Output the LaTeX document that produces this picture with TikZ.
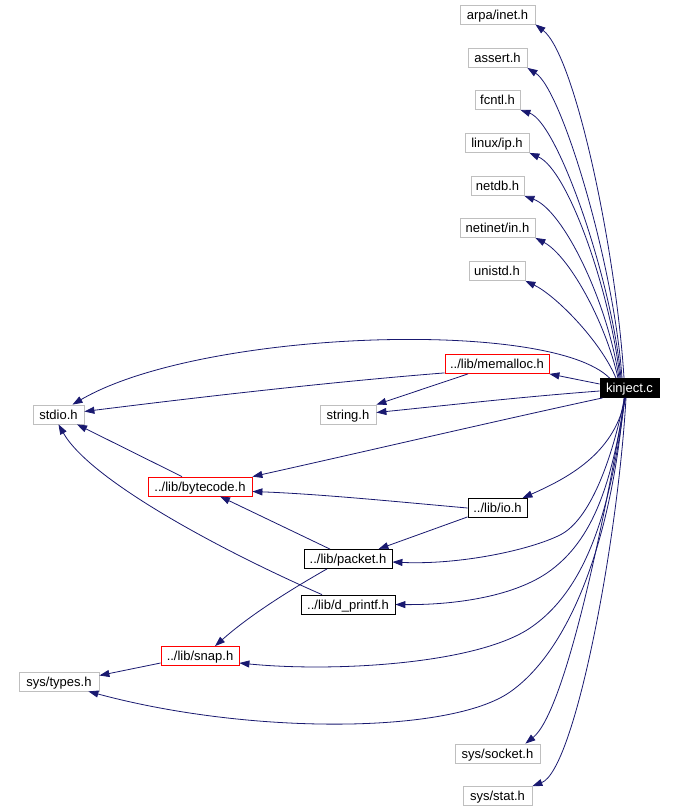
\documentclass[tikz,border=0pt]{standalone}
\usepackage{fontspec}
\setmainfont{Liberation Sans}
\usetikzlibrary{arrows.meta,calc}
\definecolor{edgeblue}{HTML}{191970}
\definecolor{boxgray}{HTML}{BFBFBF}
\begin{document}
\begin{tikzpicture}[x=1pt,y=-1pt,
  hdr/.style={draw=boxgray, line width=0.8pt, minimum height=19pt, inner sep=0pt, text height=10pt, text depth=0.5pt, font=\fontsize{13}{15}\selectfont, fill=white},
  redbox/.style={hdr, draw=red},
  blackbox/.style={hdr, draw=black},
  mainbox/.style={hdr, draw=black, fill=black, text=white},
  dep/.style={draw=edgeblue, line width=0.8pt, -{Triangle[length=10pt,width=7pt]}},
]
\useasboundingbox[fill=white] (0,0) rectangle (676,812);

\node[hdr, minimum width=75pt] (arpa) at (497.5,14.5) {arpa/inet.h};
\node[hdr, minimum width=59pt] (assert) at (497.5,58) {assert.h};
\node[hdr, minimum width=45pt] (fcntl) at (497.5,100) {fcntl.h};
\node[hdr, minimum width=64pt] (linuxip) at (497,143) {linux/ip.h};
\node[hdr, minimum width=53pt] (netdb) at (497.5,186) {netdb.h};
\node[hdr, minimum width=75pt] (netinet) at (497.5,228) {netinet/in.h};
\node[hdr, minimum width=56pt] (unistd) at (497,271) {unistd.h};
\node[redbox, minimum width=104pt] (memalloc) at (497,364) {../lib/memalloc.h};
\node[mainbox, minimum width=59pt] (kinject) at (629.5,388) {kinject.c};
\node[hdr, minimum width=56pt] (string) at (348,414.5) {string.h};
\node[hdr, minimum width=51pt] (stdio) at (58.5,414.5) {stdio.h};
\node[redbox, minimum width=104pt] (bytecode) at (200,486.5) {../lib/bytecode.h};
\node[blackbox, minimum width=59pt] (io) at (497.5,508) {../lib/io.h};
\node[blackbox, minimum width=88pt] (packet) at (348,559) {../lib/packet.h};
\node[blackbox, minimum width=94pt] (dprintf) at (348,604.5) {../lib/d\_printf.h};
\node[redbox, minimum width=78pt] (snap) at (200,656) {../lib/snap.h};
\node[hdr, minimum width=80pt] (types) at (59,681.5) {sys/types.h};
\node[hdr, minimum width=85pt] (socket) at (497.5,753.5) {sys/socket.h};
\node[hdr, minimum width=69pt] (stat) at (497.5,796) {sys/stat.h};

% kinject -> upper headers
\draw[dep] ($(kinject.north)+(-5.5,0)$) .. controls (616,250) and (575,55) .. (arpa.south east);
\draw[dep] ($(kinject.north)+(-7.5,0)$) .. controls (614,265) and (562,90) .. (assert.south east);
\draw[dep] ($(kinject.north)+(-8.5,0)$) .. controls (612,280) and (558,123) .. (fcntl.south east);
\draw[dep] ($(kinject.north)+(-9.5,0)$) .. controls (610,290) and (568,170) .. (linuxip.south east);
\draw[dep] ($(kinject.north)+(-10.5,0)$) .. controls (607,300) and (563,210) .. (netdb.south east);
\draw[dep] ($(kinject.north)+(-11.5,0)$) .. controls (605,320) and (568,255) .. (netinet.south east);
\draw[dep] ($(kinject.north)+(-13.5,0)$) .. controls (600,340) and (555,295) .. (unistd.south east);

% kinject -> middle
\draw[dep] ($(kinject.west)+(0,-4)$) -- (memalloc.south east);
\draw[dep] ($(kinject.west)+(0,3)$) .. controls (520,397) and (450,405) .. ($(string.east)+(0,-2)$);
\draw[dep] ($(kinject.north west)+(10,0)$) .. controls (550,318) and (200,330) .. ($(stdio.north)+(14,0)$);
\draw[dep] ($(kinject.south west)+(3,0)$) .. controls (500,420) and (350,455) .. (bytecode.north east);
\draw[dep] ($(kinject.south)+(-4,0)$) .. controls (615,450) and (575,475) .. ($(io.north east)+(-5,0)$);
\draw[dep] ($(kinject.south)+(-5,0)$) .. controls (612,460) and (590,520) .. (560,535)
   .. controls (530,550) and (460,565) .. ($(packet.east)+(0,3)$);
\draw[dep] ($(kinject.south)+(-4.5,0)$) .. controls (612,480) and (595,540) .. (547,573)
   .. controls (510,598) and (450,605) .. (dprintf.east);
\draw[dep] ($(kinject.south)+(-4.5,0)$) .. controls (612,500) and (590,590) .. (527,630)
   .. controls (470,665) and (330,672) .. ($(snap.east)+(0,7)$);
\draw[dep] ($(kinject.south)+(-5.5,0)$) .. controls (612,540) and (570,650) .. (510,692)
   .. controls (450,734) and (250,735) .. ($(types.south east)+(-11,0)$);
\draw[dep] ($(kinject.south)+(-4.5,0)$) .. controls (605,520) and (565,712) .. ($(socket.north east)+(-15,0)$);
\draw[dep] ($(kinject.south)+(-3.5,0)$) .. controls (618,540) and (575,770) .. (stat.north east);

% other dependencies
\draw[dep] ($(memalloc.south west)+(0,-1)$) .. controls (330,382) and (200,397) .. ($(stdio.east)+(0,-3)$);
\draw[dep] ($(memalloc.south)+(-29,0)$) -- (string.north east);
\draw[dep] ($(bytecode.north)+(-18,0)$) -- ($(stdio.south)+(18.5,0)$);
\draw[dep] ($(dprintf.north)+(-26,0)$) .. controls (220,550) and (90,480) .. (stdio.south);
\draw[dep] (io.west) .. controls (400,502) and (320,494) .. ($(bytecode.east)+(0,5)$);
\draw[dep] ($(io.south west)+(0,-1)$) -- ($(packet.north east)+(-14,0)$);
\draw[dep] ($(packet.north)+(-18,0)$) -- ($(bytecode.south)+(20,0)$);
\draw[dep] ($(packet.south)+(-21,0)$) .. controls (290,590) and (250,615) .. ($(snap.north)+(15,0)$);
\draw[dep] ($(snap.west)+(0,7)$) -- ($(types.east)+(0,-6)$);
\end{tikzpicture}
\end{document}
